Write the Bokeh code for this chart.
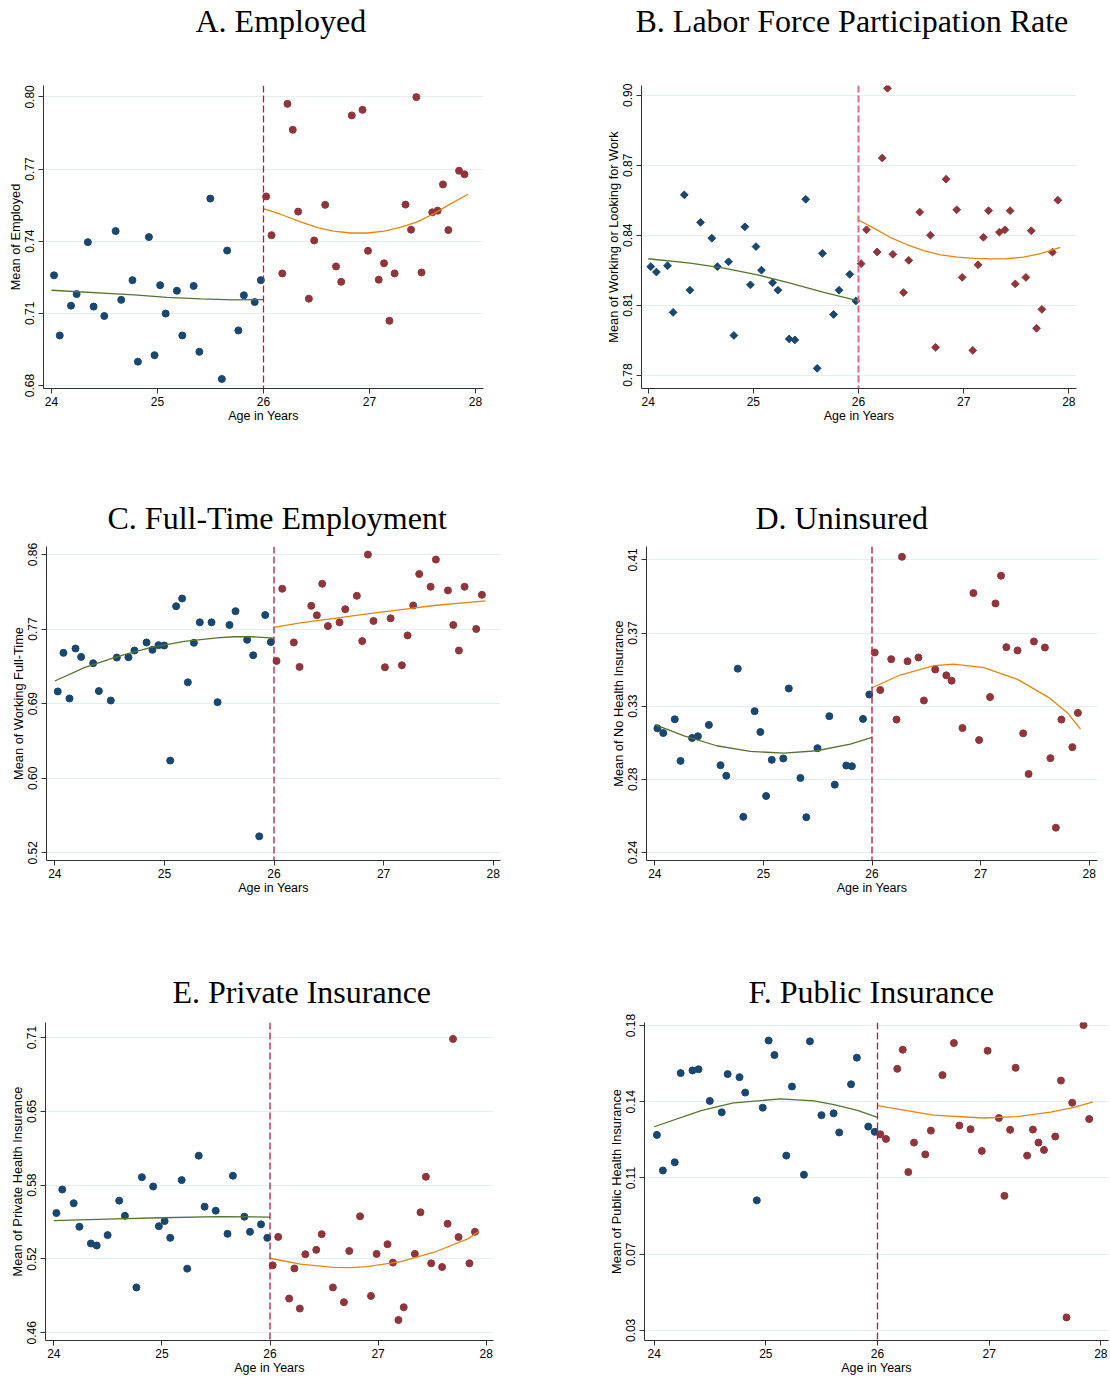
import numpy as np
from bokeh.plotting import figure
from bokeh.models import Range1d, FixedTicker, Span, Title
from bokeh.layouts import column, row
from bokeh.embed import file_html
from bokeh.resources import INLINE

# ---------------- data ----------------
AGE_L = [24.024, 24.078, 24.184, 24.237, 24.343, 24.397, 24.498, 24.605, 24.658, 24.764,
         24.815, 24.919, 24.972, 25.025, 25.077, 25.183, 25.234, 25.341, 25.395, 25.498,
         25.607, 25.657, 25.763, 25.815, 25.917, 25.975]
AGE_R = [26.025, 26.076, 26.177, 26.226, 26.276, 26.327, 26.428, 26.478, 26.582, 26.684,
         26.733, 26.833, 26.934, 26.986, 27.087, 27.137, 27.188, 27.237, 27.340, 27.392,
         27.442, 27.491, 27.592, 27.643, 27.693, 27.744, 27.845, 27.896]
AGE_C_L = [24.027, 24.079, 24.134, 24.189, 24.240, 24.350, 24.402, 24.511, 24.566, 24.672,
           24.727, 24.837, 24.891, 24.946, 24.998, 25.053, 25.107, 25.162, 25.214, 25.269,
           25.323, 25.430, 25.485, 25.594, 25.649, 25.755, 25.810, 25.865, 25.920, 25.971]
AGE_C_R = [26.023, 26.075, 26.181, 26.233, 26.340, 26.391, 26.440, 26.492, 26.598, 26.650,
           26.756, 26.805, 26.857, 26.908, 27.012, 27.064, 27.167, 27.219, 27.270, 27.325,
           27.429, 27.477, 27.587, 27.636, 27.687, 27.739, 27.845, 27.897]

EMP_L = [0.7258, 0.7008, 0.7132, 0.7180, 0.7396, 0.7128, 0.7089, 0.7442, 0.7156, 0.7238,
         0.6899, 0.7417, 0.6926, 0.7217, 0.7099, 0.7194, 0.7008, 0.7214, 0.6940, 0.7577,
         0.6827, 0.7361, 0.7029, 0.7175, 0.7147, 0.7238]
EMP_R = [0.7586, 0.7425, 0.7266, 0.7971, 0.7863, 0.7523, 0.7161, 0.7403, 0.7551, 0.7295,
         0.7231, 0.7923, 0.7946, 0.7360, 0.7240, 0.7308, 0.7069, 0.7266, 0.7552, 0.7448,
         0.7999, 0.7270, 0.7520, 0.7527, 0.7636, 0.7446, 0.7693, 0.7678]

LFP_L = [0.8265, 0.8242, 0.8269, 0.8069, 0.8573, 0.8164, 0.8455, 0.8387, 0.8265, 0.8286,
         0.7970, 0.8436, 0.8187, 0.8351, 0.8250, 0.8196, 0.8164, 0.7955, 0.7951, 0.8554,
         0.7829, 0.8322, 0.8060, 0.8164, 0.8232, 0.8118]
LFP_R = [0.8278, 0.8423, 0.8328, 0.8731, 0.9030, 0.8318, 0.8154, 0.8292, 0.8499, 0.8400,
         0.7919, 0.8640, 0.8509, 0.8219, 0.7906, 0.8273, 0.8391, 0.8505, 0.8413, 0.8423,
         0.8505, 0.8191, 0.8219, 0.8419, 0.8001, 0.8082, 0.8327, 0.8550]

FT_L = [0.7039, 0.7479, 0.6959, 0.7529, 0.7433, 0.7361, 0.7043, 0.6936, 0.7426, 0.7430,
        0.7506, 0.7598, 0.7514, 0.7567, 0.7563, 0.6251, 0.8011, 0.8099, 0.7143, 0.7594,
        0.7827, 0.7827, 0.6917, 0.7797, 0.7954, 0.7628, 0.7452, 0.5387, 0.7911, 0.7602]
FT_R = [0.7387, 0.8210, 0.7598, 0.7319, 0.8015, 0.7908, 0.8267, 0.7785, 0.7827, 0.7977,
        0.8130, 0.7613, 0.8600, 0.7843, 0.7315, 0.7873, 0.7338, 0.7678, 0.8019, 0.8378,
        0.8233, 0.8543, 0.8191, 0.7797, 0.7506, 0.8233, 0.7751, 0.8141]

UNINS_L = [0.3121, 0.3094, 0.3174, 0.2932, 0.3065, 0.3075, 0.3141, 0.2907, 0.2846, 0.3468,
           0.2607, 0.3221, 0.3100, 0.2728, 0.2938, 0.2946, 0.3353, 0.2833, 0.2605, 0.3006,
           0.3192, 0.2794, 0.2905, 0.2901, 0.3176, 0.3318]
UNINS_R = [0.3562, 0.3344, 0.3523, 0.3172, 0.4118, 0.3511, 0.3533, 0.3283, 0.3463, 0.3429,
           0.3398, 0.3123, 0.3907, 0.3053, 0.3303, 0.3847, 0.4008, 0.3593, 0.3574, 0.3092,
           0.2856, 0.3626, 0.3591, 0.2948, 0.2544, 0.3172, 0.3012, 0.3211]

PRIV_L = [0.5614, 0.5813, 0.5697, 0.5498, 0.5356, 0.5339, 0.5427, 0.5719, 0.5591, 0.4984,
          0.5918, 0.5839, 0.5503, 0.5546, 0.5404, 0.5893, 0.5143, 0.6100, 0.5668, 0.5634,
          0.5438, 0.5930, 0.5583, 0.5455, 0.5518, 0.5404]
PRIV_R = [0.5171, 0.5412, 0.4890, 0.5145, 0.4805, 0.5265, 0.5302, 0.5435, 0.4984, 0.4859,
          0.5293, 0.5586, 0.4912, 0.5268, 0.5350, 0.5194, 0.4708, 0.4816, 0.5268, 0.5620,
          0.5921, 0.5188, 0.5157, 0.5523, 0.7089, 0.5410, 0.5188, 0.5455]

PUB_L = [0.1262, 0.1087, 0.1127, 0.1566, 0.1579, 0.1585, 0.1429, 0.1373, 0.1561, 0.1546,
         0.1470, 0.0940, 0.1396, 0.1726, 0.1655, 0.1160, 0.1500, 0.1066, 0.1722, 0.1359,
         0.1368, 0.1274, 0.1511, 0.1642, 0.1303, 0.1277]
PUB_R = [0.1265, 0.1242, 0.1587, 0.1681, 0.1079, 0.1224, 0.1166, 0.1283, 0.1556, 0.1714,
         0.1308, 0.1290, 0.1183, 0.1676, 0.1345, 0.0962, 0.1287, 0.1592, 0.1160, 0.1288,
         0.1224, 0.1188, 0.1254, 0.1529, 0.0364, 0.1420, 0.1802, 0.1340]

# fitted curves at a few ages
FIT_EMP_L_AGE = [24.0, 24.78, 25.09, 25.41, 25.72, 26.0]
FIT_EMP_L = [0.7196, 0.7177, 0.7166, 0.7160, 0.7156, 0.7157]
FIT_EMP_R_AGE = [26.0, 26.16, 26.35, 26.51, 26.66, 26.82, 26.98, 27.14, 27.29, 27.45, 27.61, 27.76, 27.93]
FIT_EMP_R = [0.7535, 0.7512, 0.7480, 0.7456, 0.7442, 0.7434, 0.7434, 0.7442, 0.7457, 0.7480, 0.7515, 0.7554, 0.7595]

FIT_LFP_L_AGE = [24.0, 24.40, 24.72, 25.04, 25.35, 25.67, 26.0]
FIT_LFP_L = [0.8299, 0.8280, 0.8259, 0.8230, 0.8194, 0.8155, 0.8118]
FIT_LFP_R_AGE = [26.0, 26.15, 26.30, 26.46, 26.62, 26.78, 26.94, 27.10, 27.26, 27.41, 27.57, 27.73, 27.92]
FIT_LFP_R = [0.8465, 0.8429, 0.8391, 0.8360, 0.8334, 0.8316, 0.8306, 0.8301, 0.8298, 0.8299, 0.8306, 0.8321, 0.8348]

FIT_FT_L_AGE = [24.0, 24.27, 24.57, 24.87, 25.18, 25.48, 25.63, 25.79, 26.0]
FIT_FT_L = [0.7158, 0.7311, 0.7437, 0.7540, 0.7609, 0.7651, 0.7663, 0.7663, 0.7648]
FIT_FT_R_AGE = [26.0, 26.24, 26.55, 26.85, 27.16, 27.46, 27.93]
FIT_FT_R = [0.7770, 0.7820, 0.7873, 0.7923, 0.7973, 0.8019, 0.8072]

FIT_UNINS_L_AGE = [24.0, 24.27, 24.57, 24.88, 25.19, 25.49, 25.80, 26.0]
FIT_UNINS_L = [0.3143, 0.3077, 0.3020, 0.2987, 0.2977, 0.2991, 0.3030, 0.3069]
FIT_UNINS_R_AGE = [26.0, 26.26, 26.57, 26.75, 27.03, 27.34, 27.64, 27.80, 27.92]
FIT_UNINS_R = [0.3357, 0.3431, 0.3485, 0.3494, 0.3474, 0.3406, 0.3295, 0.3211, 0.3117]

FIT_PRIV_L_AGE = [24.0, 24.49, 25.0, 25.51, 26.0]
FIT_PRIV_L = [0.5549, 0.5563, 0.5574, 0.5583, 0.5580]
FIT_PRIV_R_AGE = [26.0, 26.28, 26.59, 26.75, 26.90, 27.21, 27.52, 27.83, 27.93]
FIT_PRIV_R = [0.5231, 0.5182, 0.5154, 0.5151, 0.5160, 0.5202, 0.5282, 0.5395, 0.5458]

FIT_PUB_L_AGE = [24.0, 24.42, 24.71, 25.13, 25.43, 25.61, 25.82, 26.0]
FIT_PUB_L = [0.1302, 0.1381, 0.1419, 0.1439, 0.1429, 0.1411, 0.1382, 0.1348]
FIT_PUB_R_AGE = [26.0, 26.21, 26.50, 26.95, 27.25, 27.55, 27.76, 27.93]
FIT_PUB_R = [0.1406, 0.1386, 0.1359, 0.1345, 0.1352, 0.1374, 0.1397, 0.1424]

X_TICKS = [24, 25, 26, 27, 28]
CUTOFF = 26

TITLES = ["A. Employed", "B. Labor Force Participation Rate", "C. Full-Time Employment",
          "D. Uninsured", "E. Private Insurance", "F. Public Insurance"]
YLABELS = ["Mean of Employed", "Mean of Working or Looking for Work",
           "Mean of Working Full-Time", "Mean of No Health Insurance",
           "Mean of Private Health Insurance", "Mean of Public Health Insurance"]
X_LABEL = "Age in Years"

Y_TICKS = [[0.68, 0.71, 0.74, 0.77, 0.80],
           [0.78, 0.81, 0.84, 0.87, 0.90],
           [0.52, 0.605, 0.69, 0.775, 0.86],
           [0.24, 0.2825, 0.325, 0.3675, 0.41],
           [0.46, 0.5225, 0.585, 0.6475, 0.71],
           [0.03, 0.0675, 0.105, 0.1425, 0.18]]
Y_TICK_LABELS = [["0.68", "0.71", "0.74", "0.77", "0.80"],
                 ["0.78", "0.81", "0.84", "0.87", "0.90"],
                 ["0.52", "0.60", "0.69", "0.77", "0.86"],
                 ["0.24", "0.28", "0.33", "0.37", "0.41"],
                 ["0.46", "0.52", "0.58", "0.65", "0.71"],
                 ["0.03", "0.07", "0.11", "0.14", "0.18"]]

SERIES = [(AGE_L, EMP_L, AGE_R, EMP_R),
          (AGE_L, LFP_L, AGE_R, LFP_R),
          (AGE_C_L, FT_L, AGE_C_R, FT_R),
          (AGE_L, UNINS_L, AGE_R, UNINS_R),
          (AGE_L, PRIV_L, AGE_R, PRIV_R),
          (AGE_L, PUB_L, AGE_R, PUB_R)]
FITS = [(FIT_EMP_L_AGE, FIT_EMP_L, FIT_EMP_R_AGE, FIT_EMP_R),
        (FIT_LFP_L_AGE, FIT_LFP_L, FIT_LFP_R_AGE, FIT_LFP_R),
        (FIT_FT_L_AGE, FIT_FT_L, FIT_FT_R_AGE, FIT_FT_R),
        (FIT_UNINS_L_AGE, FIT_UNINS_L, FIT_UNINS_R_AGE, FIT_UNINS_R),
        (FIT_PRIV_L_AGE, FIT_PRIV_L, FIT_PRIV_R_AGE, FIT_PRIV_R),
        (FIT_PUB_L_AGE, FIT_PUB_L, FIT_PUB_R_AGE, FIT_PUB_R)]

# ---------------- layout / style ----------------
TITLE_H = 42  # rendered height of the 32px serif title panel
COLS = [(0, 560), (560, 1109)]
ROWS = [dict(cell=(0, 497), top=87, bottom=388),
        dict(cell=(497, 971), top=548, bottom=860),
        dict(cell=(971, 1377), top=1024, bottom=1340)]

# frame left/right (px), pixel anchors of first/last x tick and first/last y tick,
# title left edge (px)
PANELS = [
    dict(r=0, c=0, fl=43, fr=483, x0px=51.0, x1px=475.0, y0px=385.0, y1px=98.3, tl=195,
         vcol="#b51b40", vw=1.3, marker="circle"),
    dict(r=0, c=1, fl=641, fr=1076, x0px=647.7, x1px=1068.3, y0px=374.7, y1px=96.7, tl=635,
         vcol="#e0678d", vw=2.0, marker="diamond"),
    dict(r=1, c=0, fl=46, fr=500, x0px=54.3, x1px=492.7, y0px=852.3, y1px=556.0, tl=107,
         vcol="#b51b40", vw=1.3, marker="circle"),
    dict(r=1, c=1, fl=646, fr=1097, x0px=654.3, x1px=1088.7, y0px=852.0, y1px=561.3, tl=755,
         vcol="#c92a4e", vw=1.5, marker="circle"),
    dict(r=2, c=0, fl=45, fr=493, x0px=53.3, x1px=485.7, y0px=1332.3, y1px=1039.0, tl=172,
         vcol="#b51b40", vw=1.3, marker="circle"),
    dict(r=2, c=1, fl=644, fr=1108, x0px=653.7, x1px=1100.3, y0px=1330.0, y1px=1027.0, tl=748,
         vcol="#b51b40", vw=1.3, marker="circle"),
]

BLUE = "#1a476f"
RED = "#90353b"
GREEN = "#55752f"
ORANGE = "#e8850f"
GRID = "#e6eff0"
AXIS = "#333333"
SANS = "Liberation Sans"
SERIF = "Liberation Serif"


def make_panel(i):
    spec = PANELS[i]
    rw = ROWS[spec["r"]]
    cx0, cx1 = COLS[spec["c"]]
    cy0, cy1 = rw["cell"]
    fl, fr, ft, fb = spec["fl"], spec["fr"], rw["top"], rw["bottom"]
    spacer = ft - cy0 - TITLE_H

    # map frame edges to data ranges using the reference tick positions
    xt0, xt1 = X_TICKS[0], X_TICKS[-1]
    xs = (xt1 - xt0) / (spec["x1px"] - spec["x0px"])
    x_start = xt0 - (spec["x0px"] - fl) * xs
    x_end = xt1 + (fr - spec["x1px"]) * xs
    yt0, yt1 = Y_TICKS[i][0], Y_TICKS[i][-1]
    ys = (yt1 - yt0) / (spec["y0px"] - spec["y1px"])
    y_start = yt0 - (fb - spec["y0px"]) * ys
    y_end = yt1 + (spec["y1px"] - ft) * ys

    p = figure(width=cx1 - cx0, height=cy1 - cy0,
               x_range=Range1d(x_start, x_end), y_range=Range1d(y_start, y_end),
               output_backend="svg", toolbar_location=None,
               min_border_left=fl - cx0, min_border_right=cx1 - fr,
               min_border_top=0, min_border_bottom=cy1 - fb)
    p.outline_line_color = None
    p.background_fill_color = "white"
    p.border_fill_color = "white"

    # spacer (closest to the frame) and the panel title above it
    p.add_layout(Title(text=" ", text_font_size="1px", standoff=spacer - 1), "above")
    p.add_layout(Title(text=TITLES[i], text_font=SERIF, text_font_size="32px",
                       text_font_style="normal", text_color="black", align="left",
                       offset=spec["tl"] - fl, standoff=0), "above")

    # axes
    xa = p.xaxis[0]
    xa.ticker = FixedTicker(ticks=X_TICKS)
    xa.axis_label = X_LABEL
    ya = p.yaxis[0]
    ya.ticker = FixedTicker(ticks=Y_TICKS[i])
    ya.major_label_overrides = {t: s for t, s in zip(Y_TICKS[i], Y_TICK_LABELS[i])}
    ya.major_label_orientation = "vertical"
    ya.axis_label = YLABELS[i]
    for ax in (xa, ya):
        ax.axis_line_color = AXIS
        ax.axis_line_width = 1
        ax.major_tick_line_color = AXIS
        ax.major_tick_out = 5
        ax.major_tick_in = 0
        ax.minor_tick_line_color = None
        ax.major_label_text_font = SANS
        ax.major_label_text_font_size = "12px"
        ax.major_label_text_color = "black"
        ax.axis_label_text_font = SANS
        ax.axis_label_text_font_style = "normal"
        ax.axis_label_text_color = "black"
    xa.major_label_standoff = 3
    xa.axis_label_standoff = 0
    xa.axis_label_text_font_size = "12.5px"
    ya.major_label_standoff = 4
    ya.axis_label_standoff = 0
    ya.axis_label_text_font_size = "12.8px"

    p.xgrid.visible = False
    p.ygrid.ticker = FixedTicker(ticks=Y_TICKS[i])
    p.ygrid.grid_line_color = GRID
    p.ygrid.grid_line_width = 1.2

    xl, yl, xr, yr = SERIES[i]
    fxl, fyl, fxr, fyr = FITS[i]

    p.add_layout(Span(location=CUTOFF, dimension="height", line_color=spec["vcol"],
                      line_width=spec["vw"], line_dash="7 3"))

    if spec["marker"] == "diamond":
        p.scatter(xl, yl, marker="square", angle=np.pi / 4, size=5.5, color=BLUE)
        p.scatter(xr, yr, marker="square", angle=np.pi / 4, size=5.5, color=RED)
    else:
        p.scatter(xl, yl, marker="circle", size=7, color=BLUE)
        p.scatter(xr, yr, marker="circle", size=7, color=RED)
    p.line(fxl, fyl, line_color=GREEN, line_width=1.3)
    p.line(fxr, fyr, line_color=ORANGE, line_width=1.3)
    return p


figs = [make_panel(i) for i in range(6)]
layout = column(row(figs[0], figs[1]), row(figs[2], figs[3]), row(figs[4], figs[5]))

open("out.html", "w").write(file_html(layout, INLINE))
